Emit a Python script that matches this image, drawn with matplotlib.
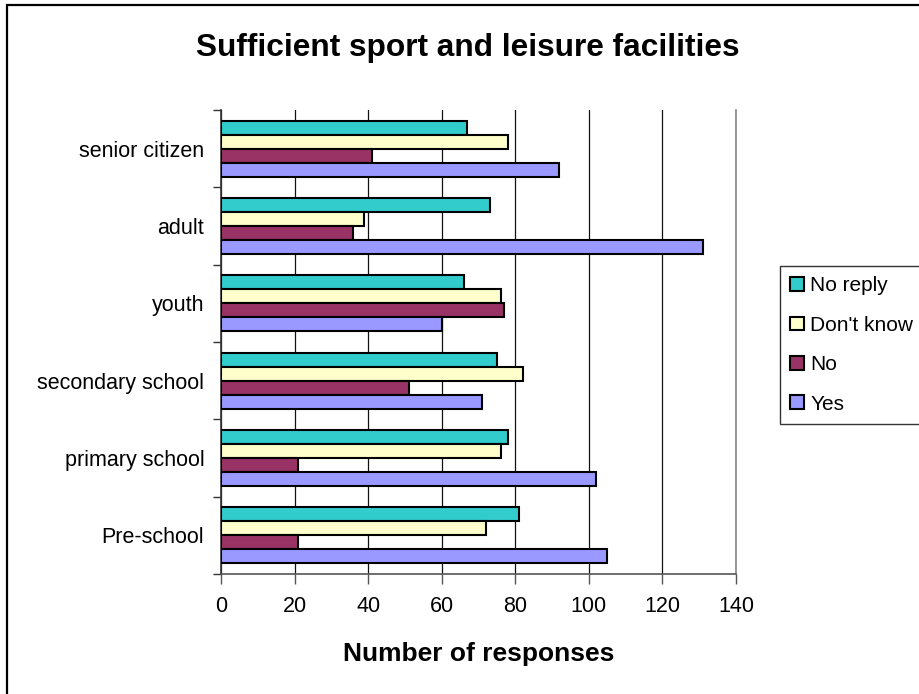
#!/usr/bin/env python3

import numpy as np
import matplotlib
matplotlib.use('Agg')
import matplotlib.pyplot as plt
from matplotlib.patches import Patch, Rectangle

plt.rcParams['font.family'] = ['Liberation Sans', 'DejaVu Sans']

# categories, bottom to top as drawn
categories = ['Pre-school', 'primary school', 'secondary school', 'youth', 'adult', 'senior citizen']

# number of responses per answer
yes_vals = [105, 102, 71, 60, 131, 92]
no_vals = [21, 21, 51, 77, 36, 41]
dont_know_vals = [72, 76, 82, 76, 39, 78]
no_reply_vals = [81, 78, 75, 66, 73, 67]

series_names = ['No reply', "Don't know", 'No', 'Yes']
series_values = [no_reply_vals, dont_know_vals, no_vals, yes_vals]
series_colors = ['#33CCCC', '#FFFFCC', '#993366', '#9999FF']

xticks = [0, 20, 40, 60, 80, 100, 120, 140]

W, H = 920, 694
fig = plt.figure(figsize=(W / 100, H / 100), dpi=100)
fig.patch.set_facecolor('white')

# outer chart border (runs off the right and bottom edge)
fig.patches.append(Rectangle((7 / W, -0.1), 2, (H - 5) / H + 0.1, transform=fig.transFigure,
                             fill=False, edgecolor='black', linewidth=1.6, clip_on=False))

ax = fig.add_axes([221 / W, (H - 574) / H, 515 / W, 464 / H])

y = np.arange(len(categories))
bar_h = 0.18
offsets = [0.27, 0.09, -0.09, -0.27]

for name, vals, col, off in zip(series_names, series_values, series_colors, offsets):
    ax.barh(y + off, vals, height=bar_h, color=col, edgecolor='black', linewidth=1.5,
            label=name, zorder=3)

ax.set_xlim(0, 140)
ax.set_ylim(-0.5, len(categories) - 0.5)

ax.set_xticks(xticks)
ax.set_xticklabels([str(t) for t in xticks], fontsize=15.5)
ax.xaxis.grid(True, color='#111111', linewidth=0.9, zorder=0)
ax.tick_params(axis='x', length=7, width=1, color='#555555', pad=9)

# ticks between groups, labels at group centres
ax.set_yticks(np.arange(-0.5, len(categories), 1.0))
ax.set_yticklabels([])
ax.set_yticks(y, minor=True)
ax.set_yticklabels(categories, minor=True, fontsize=15.5)
ax.tick_params(axis='y', which='major', length=6, width=1, color='#333333')
ax.tick_params(axis='y', which='minor', length=0, pad=12)

ax.spines['top'].set_visible(False)
ax.spines['right'].set_color('#888888')
ax.spines['bottom'].set_color('#555555')
ax.spines['left'].set_color('#333333')
for s in ax.spines.values():
    s.set_linewidth(1.2)

ax.set_xlabel('Number of responses', fontsize=19, fontweight='bold', labelpad=18)

fig.text(468 / W, 1 - 48 / H, 'Sufficient sport and leisure facilities', fontsize=22.8,
         fontweight='bold', ha='center', va='center')

handles = [Patch(facecolor=c, edgecolor='black', linewidth=1.5, label=n)
           for n, c in zip(series_names, series_colors)]
leg = fig.legend(handles=handles, loc='upper left', bbox_to_anchor=(780 / W, 1 - 266 / H),
                 fontsize=15, frameon=True, fancybox=False, handlelength=0.65, handleheight=0.65,
                 handletextpad=0.3, labelspacing=0.98, borderpad=0.5, borderaxespad=0)
leg.get_frame().set_edgecolor('black')
leg.get_frame().set_linewidth(1.0)

plt.savefig('out.png', dpi=100)
